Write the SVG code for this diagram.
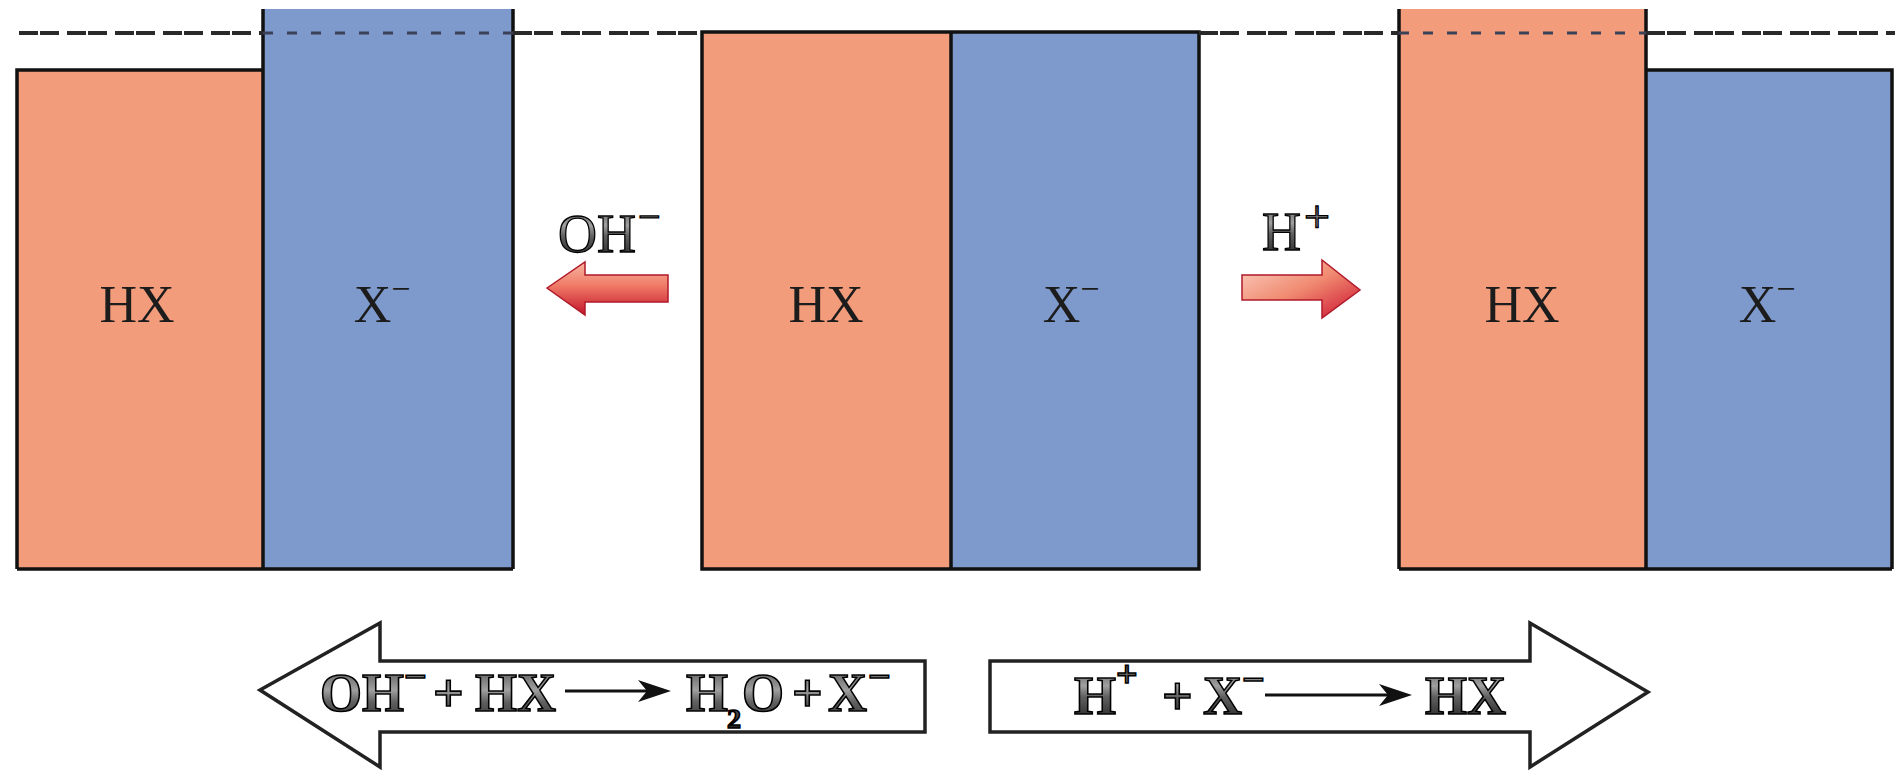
<svg xmlns="http://www.w3.org/2000/svg" width="1895" height="771" viewBox="0 0 1895 771">
  <style>
    .or { fill: #F39C7B; }
    .bl { fill: #7E99CB; }
    .edge { fill: none; stroke: #111; stroke-width: 3.5; }
    .lbl { font-family: "Liberation Serif", "Times New Roman", serif; font-size: 52px; fill: #1c1c1c; text-anchor: middle; }
    .dashOut { stroke: #2a2a2a; stroke-width: 4; stroke-dasharray: 19 2 19 8; fill: none; }
    .dashIn { stroke: #3b4258; stroke-width: 3; stroke-dasharray: 10 14; fill: none; }
    .metal { font-family: "Liberation Serif", "Times New Roman", serif; fill: url(#metal); stroke: #000; stroke-width: 1.3; }
    .eq { font-weight: bold; stroke-width: 1.6; }
    .big { fill: #fff; stroke: #222; stroke-width: 3.5; stroke-linejoin: miter; }
    .eqline { stroke: #111; stroke-width: 3; }
  </style>
  <defs>
    <linearGradient id="metal" x1="0" y1="0" x2="0" y2="1">
      <stop offset="0" stop-color="#2a2a2a"/>
      <stop offset="0.45" stop-color="#a0a0a0"/>
      <stop offset="0.6" stop-color="#606060"/>
      <stop offset="1" stop-color="#1a1a1a"/>
    </linearGradient>
    <linearGradient id="redL" x1="0" y1="0" x2="0" y2="1">
      <stop offset="0" stop-color="#f8b6a2"/>
      <stop offset="0.45" stop-color="#ef7a66"/>
      <stop offset="1" stop-color="#c4142c"/>
    </linearGradient>
    <linearGradient id="redR" x1="0" y1="0" x2="1" y2="1">
      <stop offset="0" stop-color="#fbd2c4"/>
      <stop offset="0.5" stop-color="#f08a70"/>
      <stop offset="1" stop-color="#cc1030"/>
    </linearGradient>
  </defs>

  <!-- left state -->
  <g id="left-state">
    <rect class="or" x="17" y="70" width="246" height="499"/>
    <rect class="bl" x="263" y="9" width="250" height="560"/>
    <path class="edge" d="M17,569 L17,70 L263,70 M263,9 L263,569 M513,9 L513,569 M17,569 L513,569"/>
    <text class="lbl" x="137" y="322">HX</text>
    <text class="lbl" x="382" y="322">X<tspan font-size="34" dy="-22">−</tspan></text>
  </g>

  <!-- middle state -->
  <g id="middle-state">
    <rect class="or" x="702" y="32" width="249" height="537"/>
    <rect class="bl" x="951" y="32" width="248" height="537"/>
    <path class="edge" d="M702,32 L1199,32 L1199,569 L702,569 Z M951,32 L951,569"/>
    <text class="lbl" x="826" y="322">HX</text>
    <text class="lbl" x="1071" y="322">X<tspan font-size="34" dy="-22">−</tspan></text>
  </g>

  <!-- right state -->
  <g id="right-state">
    <rect class="or" x="1399" y="9" width="247" height="560"/>
    <rect class="bl" x="1646" y="70" width="246" height="499"/>
    <path class="edge" d="M1399,9 L1399,569 M1646,9 L1646,569 M1646,70 L1892,70 L1892,569 M1399,569 L1892,569"/>
    <text class="lbl" x="1522" y="322">HX</text>
    <text class="lbl" x="1767" y="322">X<tspan font-size="34" dy="-22">−</tspan></text>
  </g>

  <!-- reference level dashed line -->
  <g id="level-line">
    <path class="dashOut" d="M19,33 L263,33 M513,33 L702,33 M1199,33 L1399,33 M1646,33 L1895,33"/>
    <path class="dashIn" d="M263,33 L513,33 M1399,33 L1646,33"/>
  </g>

  <!-- connectors -->
  <g id="connectors">
    <g id="oh-arrow">
      <path d="M547,288 L585,262 L585,275 L668,275 L668,302 L585,302 L585,315 Z" fill="url(#redL)" stroke="#b01a2a" stroke-width="1.5"/>
      <text class="metal" font-size="54" x="558" y="252">OH<tspan font-size="40" x="638" y="230">−</tspan></text>
    </g>
    <g id="h-arrow">
      <path d="M1242,275 L1322,275 L1322,260 L1360,290 L1322,318 L1322,300 L1242,300 Z" fill="url(#redR)" stroke="#b01a2a" stroke-width="1.5"/>
      <text class="metal" font-size="54" x="1262" y="250">H<tspan font-size="46" x="1304" y="232">+</tspan></text>
    </g>
  </g>

  <!-- bottom equation arrows -->
  <g id="base-arrow">
    <path class="big" d="M260,690 L380,623 L380,661 L925,661 L925,732 L380,732 L380,767 Z"/>
    <text class="metal eq" font-size="54" y="711"><tspan x="320">OH</tspan><tspan font-size="40" x="404" y="690">−</tspan><tspan x="433" y="711">+</tspan><tspan x="475" y="711">HX</tspan><tspan x="686" y="711">H</tspan><tspan font-size="28" x="727" y="728">2</tspan><tspan x="742" y="711">O</tspan><tspan x="792" y="711">+</tspan><tspan x="828" y="711">X</tspan><tspan font-size="40" x="868" y="690">−</tspan></text>
    <line class="eqline" x1="565" y1="691" x2="648" y2="691"/>
    <polygon points="671,691 638,680 647,691 638,702" fill="#111"/>
  </g>
  <g id="acid-arrow">
    <path class="big" d="M990,661 L1530,661 L1530,623 L1648,692 L1530,767 L1530,732 L990,732 Z"/>
    <text class="metal eq" font-size="54" y="714"><tspan x="1074">H</tspan><tspan font-size="38" x="1116" y="687">+</tspan><tspan x="1162" y="714">+</tspan><tspan x="1203" y="714">X</tspan><tspan font-size="40" x="1242" y="693">−</tspan><tspan x="1425" y="714">HX</tspan></text>
    <line class="eqline" x1="1265" y1="695" x2="1388" y2="695"/>
    <polygon points="1412,695 1379,684 1388,695 1379,706" fill="#111"/>
  </g>
</svg>
